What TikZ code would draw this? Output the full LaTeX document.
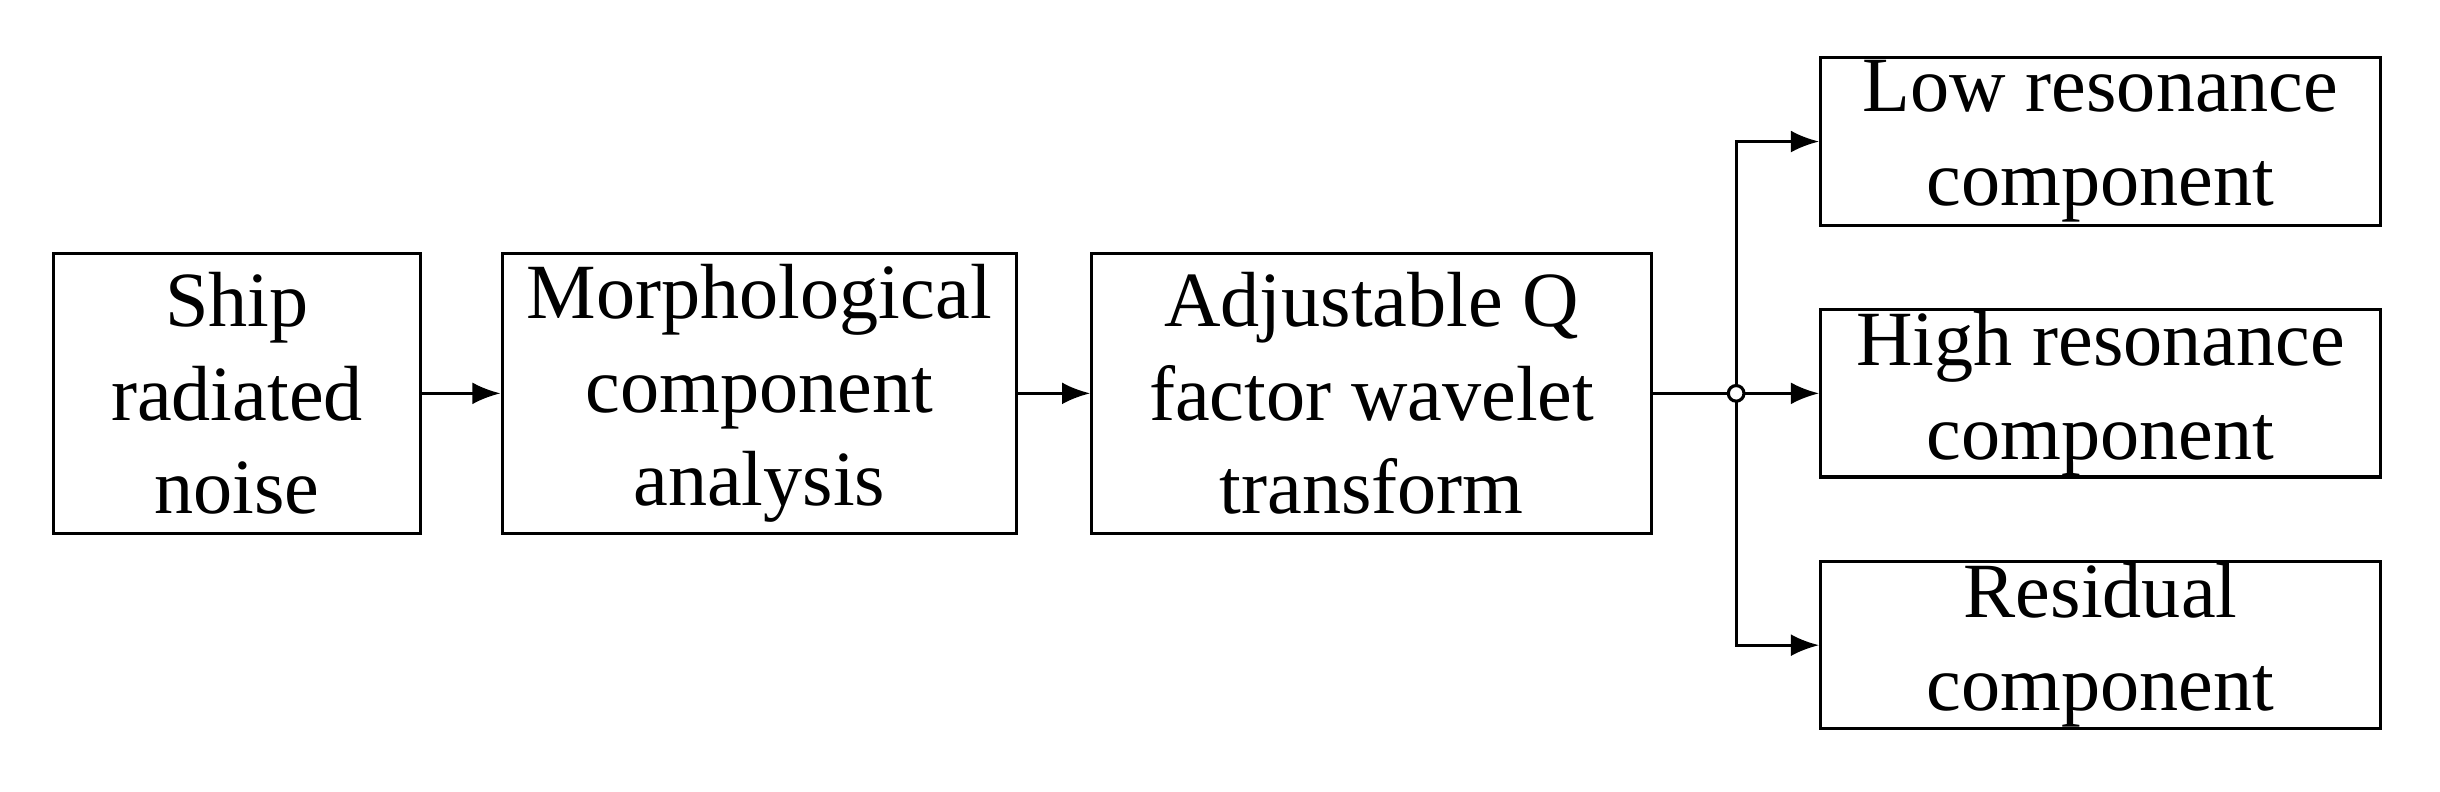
\documentclass[tikz,border=0pt]{standalone}
\usepackage{fontspec}
\setmainfont{Liberation Serif}
\usetikzlibrary{arrows.meta}
\begin{document}
\begin{tikzpicture}[x=0.5pt,y=-0.5pt,
  box/.style={draw,line width=1pt,inner sep=0pt,align=center,font=\fontsize{25}{30}\selectfont},
  arr/.style={line width=1pt,-{Latex[length=9pt,width=7pt]}}]
\useasboundingbox (0,0) rectangle (1560,506);
\node[box,minimum width=117.5pt,minimum height=89.5pt] (a) at (151.5,251.5) {Ship\\radiated\\noise};
\node[box,minimum width=164.5pt,minimum height=89.5pt] (b) at (485.5,251.5) {Morphological\\component\\analysis};
\node[box,minimum width=179pt,minimum height=89.5pt] (c) at (877,251.5) {Adjustable Q\\factor wavelet\\transform};
\node[box,minimum width=179pt,minimum height=53.5pt] (d) at (1343,90.5) {Low resonance\\component};
\node[box,minimum width=179pt,minimum height=53.5pt] (e) at (1343,251.5) {High resonance\\component};
\node[box,minimum width=179pt,minimum height=53.5pt] (f) at (1343,412.5) {Residual\\component};
\coordinate (j) at (1110,251.5);
\draw[arr] (a) -- (b);
\draw[arr] (b) -- (c);
\draw[line width=1pt] (c) -- (j);
\draw[arr] (j) -- (e);
\draw[arr] (j) |- (d);
\draw[arr] (j) |- (f);
\draw[line width=1pt,fill=white] (j) circle (2.5pt);
\end{tikzpicture}
\end{document}
